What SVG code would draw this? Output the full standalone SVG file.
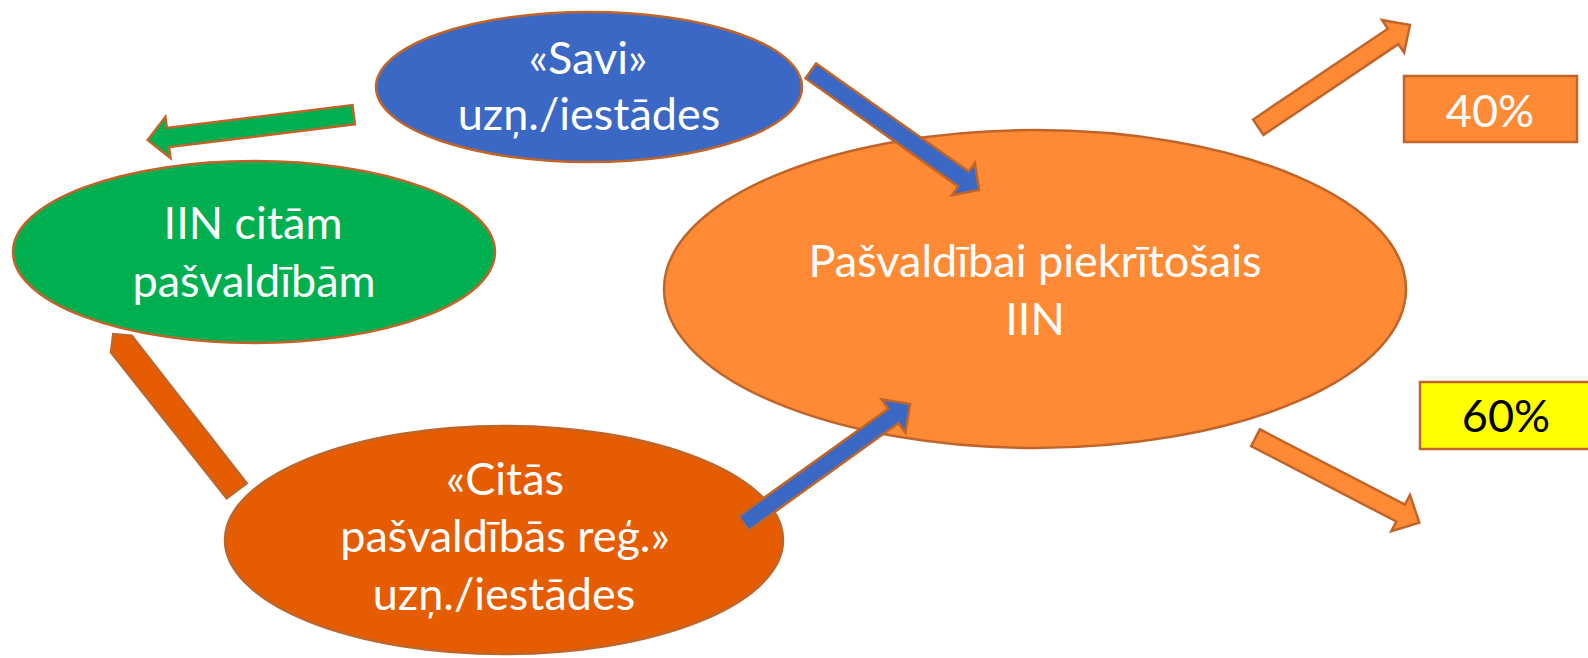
<svg xmlns="http://www.w3.org/2000/svg" width="1588" height="658" viewBox="0 0 1588 658">
<style>
.t{font-family:Lato,"Open Sans","Noto Sans",sans-serif;font-size:45px;text-anchor:middle;fill:#FFFFFF}
.blk{fill:#000000}
.nd{stroke:#C0652A;stroke-width:2.5}
.ar{stroke:#C0652A;stroke-width:2.5;stroke-linejoin:miter}
</style>
<rect width="1588" height="658" fill="#FFFFFF"/>
<g id="node-savi">
<ellipse class="nd" cx="589" cy="87" rx="213" ry="75" fill="#3A68C4"/>
<text class="t" x="588" y="74">«Savi»</text>
<text class="t" x="589" y="130">uzņ./iestādes</text>
</g>
<g id="node-iin-citam">
<ellipse class="nd" cx="254" cy="252" rx="241" ry="91" fill="#00B050"/>
<text class="t" x="253" y="239">IIN citām</text>
<text class="t" x="254" y="297">pašvaldībām</text>
</g>
<g id="node-pasvaldibai">
<ellipse class="nd" cx="1035" cy="289" rx="371" ry="159" fill="#FF8A36"/>
<text class="t" x="1035" y="277">Pašvaldībai piekrītošais</text>
<text class="t" x="1035" y="335">IIN</text>
</g>
<g id="node-citas">
<ellipse class="nd" cx="504" cy="540" rx="279" ry="114" fill="#E65C00"/>
<text class="t" x="505" y="495">«Citās</text>
<text class="t" x="505" y="552">pašvaldībās reģ.»</text>
<text class="t" x="504" y="610">uzņ./iestādes</text>
</g>
<g id="node-40">
<rect class="nd" x="1404" y="76" width="173" height="66" fill="#FF8A36"/>
<text class="t" x="1490" y="127">40%</text>
</g>
<g id="node-60">
<rect class="nd" x="1420" y="382" width="190" height="67" fill="#FFFF00"/>
<text class="t blk" x="1506" y="432">60%</text>
</g>
<g id="connectors">
<polygon class="ar" fill="#FF8A36" points="1263.5,134.9 1398.3,44.1 1404.1,52.7 1410,25 1382.1,20.1 1387.9,28.7 1253.1,119.5"/>
<polygon class="ar" fill="#FF8A36" points="1251.1,446.1 1396.3,521.5 1391.3,531.1 1419.3,522.7 1410,495 1405,504.6 1259.9,429.3"/>
<polygon class="ar" fill="#00B050" points="354.9,124.3 169.1,147.1 170.5,158.1 147.7,140 165.4,117 166.8,127.9 352.5,105.1"/>
<polygon class="ar" fill="#3A68C4" points="805.5,78.2 958.2,186.4 952.1,195.1 979,190 974.9,162.9 968.8,171.6 816.1,63.4"/>
<polygon class="ar" fill="#3A68C4" points="748.8,530.5 898.6,423 905.4,432.5 910,404 881.5,399.2 888.3,408.7 738.6,516.2"/>
<polygon class="ar" fill="#E65C00" stroke-width="1.5" points="246.7,483.3 131.7,335.7 113.3,334 111,352.3 226.7,498.3"/>
</g>
</svg>
